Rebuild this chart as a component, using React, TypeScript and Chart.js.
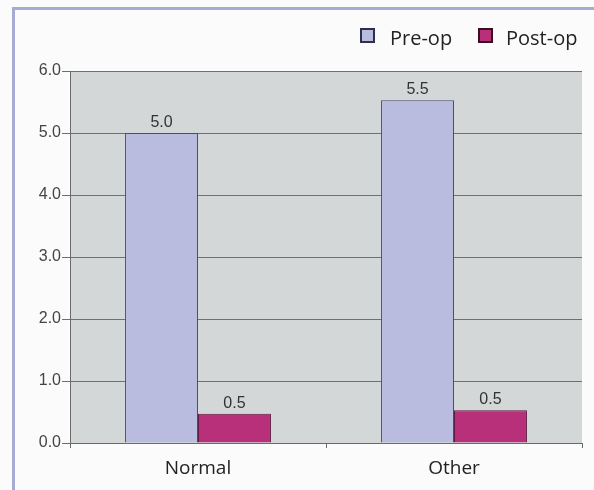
import React, { useEffect, useRef } from "react";
import { Chart, registerables } from "chart.js";

Chart.register(...registerables);

const categories = ["Normal", "Other"];
const preOp = [5.0, 5.53];
const postOp = [0.47, 0.53];
const seriesNames = ["Pre-op", "Post-op"];
const yTicks = [0, 1, 2, 3, 4, 5, 6];

const PRE_FILL = "#b9bbdf";
const PRE_BORDER = "#4b4c6e";
const POST_FILL = "#b8307a";
const POST_BORDER = "#5e1a3e";

const framePlugin = {
  id: "frame",
  beforeDraw(chart: any) {
    const { ctx, chartArea, width, height } = chart;
    ctx.save();
    ctx.fillStyle = "#fbfbfb";
    ctx.fillRect(0, 0, width, height);
    ctx.fillStyle = "#a7aad2";
    ctx.fillRect(12, 7, width - 12, 3);
    ctx.fillRect(12, 7, 3, height - 7);
    ctx.fillStyle = "#d3d7d7";
    ctx.fillRect(chartArea.left, chartArea.top, chartArea.right - chartArea.left, chartArea.bottom - chartArea.top);
    ctx.restore();
  },
  afterDraw(chart: any) {
    const { ctx } = chart;
    ctx.save();
    // data labels
    ctx.font = "16px 'Liberation Sans', Arial, sans-serif";
    ctx.fillStyle = "#333333";
    ctx.textAlign = "center";
    ctx.textBaseline = "alphabetic";
    chart.data.datasets.forEach((ds: any, di: number) => {
      const meta = chart.getDatasetMeta(di);
      meta.data.forEach((bar: any, i: number) => {
        ctx.fillText(Number(ds.data[i]).toFixed(1), bar.x, bar.y - 6);
      });
    });
    // legend
    const items = [
      { x: 361, tx: 390, fill: PRE_FILL, stroke: "#2e2f4a" },
      { x: 479, tx: 506, fill: POST_FILL, stroke: "#3a0f26" },
    ];
    ctx.font = "20px 'Open Sans', 'Noto Sans', sans-serif";
    ctx.textAlign = "left";
    ctx.textBaseline = "alphabetic";
    items.forEach((it, i) => {
      ctx.fillStyle = it.fill;
      ctx.fillRect(it.x, 29, 13, 13);
      ctx.strokeStyle = it.stroke;
      ctx.lineWidth = 2;
      ctx.strokeRect(it.x, 29, 13, 13);
      ctx.fillStyle = "#222222";
      ctx.fillText(seriesNames[i], it.tx, 45);
    });
    ctx.restore();
  },
};

export default function App() {
  const ref = useRef<HTMLCanvasElement>(null);
  useEffect(() => {
    if (!ref.current) return;
    const chart = new Chart(ref.current, {
      type: "bar",
      data: {
        labels: categories,
        datasets: [
          {
            label: seriesNames[0],
            data: preOp,
            backgroundColor: PRE_FILL,
            borderColor: PRE_BORDER,
            borderWidth: 1,
            categoryPercentage: 0.57,
            barPercentage: 1,
          },
          {
            label: seriesNames[1],
            data: postOp,
            backgroundColor: POST_FILL,
            borderColor: POST_BORDER,
            borderWidth: 1,
            categoryPercentage: 0.57,
            barPercentage: 1,
          },
        ],
      },
      options: {
        animation: false,
        responsive: false,
        maintainAspectRatio: false,
        layout: { padding: { top: 71, right: 12, left: 0, bottom: 0 } },
        plugins: { legend: { display: false }, tooltip: { enabled: false } },
        scales: {
          x: {
            offset: true,
            grid: {
              offset: true,
              drawOnChartArea: false,
              drawTicks: true,
              tickLength: 5,
              color: "#6a6a6a",
            },
            border: { display: true, color: "#6a6a6a", width: 1 },
            ticks: {
              color: "#222222",
              font: { family: "'Open Sans', 'Noto Sans', sans-serif", size: 19 },
              padding: 9,
            },
            afterFit(scale: any) {
              scale.height = 47;
            },
          },
          y: {
            min: 0,
            max: 6,
            afterBuildTicks(scale: any) {
              scale.ticks = yTicks.map((v) => ({ value: v }));
            },
            grid: { color: "#6f6f6f", lineWidth: 1, tickLength: 8 },
            border: { display: true, color: "#6a6a6a", width: 1 },
            ticks: {
              color: "#444444",
              font: { family: "'Liberation Sans', Arial, sans-serif", size: 16 },
              padding: 1,
              callback: (v: any) => Number(v).toFixed(1),
            },
            afterFit(scale: any) {
              scale.width = 70;
            },
          },
        },
      },
      plugins: [framePlugin],
    });
    return () => chart.destroy();
  }, []);
  return (
    <div style={{ position: "fixed", left: 0, top: 0, width: 594, height: 490 }}>
      <canvas ref={ref} width={594} height={490} style={{ display: "block" }} />
    </div>
  );
}
